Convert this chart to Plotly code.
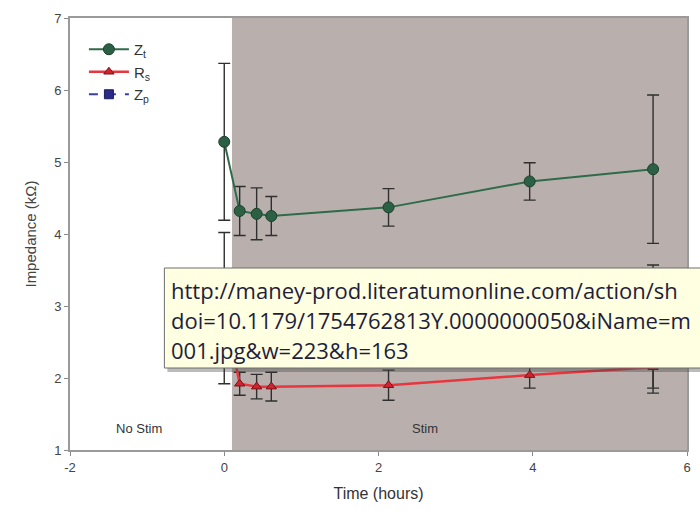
import plotly.graph_objects as go

# ---- data ----
time_h = [0, 0.2, 0.42, 0.61, 2.13, 3.96, 5.56]
zt = [5.28, 4.32, 4.28, 4.25, 4.37, 4.73, 4.90]
zt_err = [1.09, 0.34, 0.36, 0.27, 0.26, 0.26, 1.03]
rs = [2.97, 1.92, 1.88, 1.88, 1.90, 2.04, 2.15]
rs_err = [1.05, 0.16, 0.17, 0.20, 0.21, 0.18, 0.29]
zp = [3.10, 2.45, 2.42, 2.40, 2.45, 2.60, 2.68]
zp_err = [0.35, 0.20, 0.20, 0.20, 0.20, 0.25, 0.89]

series_names = ["Z<sub>t</sub>", "R<sub>s</sub>", "Z<sub>p</sub>"]
x_ticks = [-2, 0, 2, 4, 6]
x_tick_text = ["-2", "0", "2", "4", "6"]
y_ticks = [1, 2, 3, 4, 5, 6, 7]
stim_start, stim_end = 0.1, 6
region_labels = ["No Stim", "Stim"]
region_label_x = [-1.1, 2.6]
region_label_y = 1.3
tooltip_lines = [
    "http://maney-prod.literatumonline.com/action/sh",
    "doi=10.1179/1754762813Y.0000000050&iName=m",
    "001.jpg&w=223&h=163",
]

W, H = 700, 511
ML, MR, MT, MB = 70, 9, 18, 61
PW, PH = W - ML - MR, H - MT - MB


def px_x(px):
    return (px - ML) / PW


def px_y(py):
    return (H - MB - py) / PH


err_style = dict(type="data", symmetric=True, color="#2f2f2f", thickness=1.4, width=6)

fig = go.Figure()
fig.add_trace(go.Scatter(
    x=time_h, y=zp, name=series_names[2], mode="lines+markers",
    line=dict(color="#3b3fa8", width=2, dash="dash"),
    marker=dict(symbol="square", size=9, color="#2a2a88", line=dict(color="#1c1c5a", width=1)),
    error_y=dict(array=zp_err, **err_style), legendrank=3,
))
fig.add_trace(go.Scatter(
    x=time_h, y=rs, name=series_names[1], mode="lines+markers",
    line=dict(color="#e8363f", width=2.5),
    marker=dict(symbol="triangle-up", size=9, color="#cf2530", line=dict(color="#7a1018", width=1)),
    error_y=dict(array=rs_err, **err_style), legendrank=2,
))
fig.add_trace(go.Scatter(
    x=time_h, y=zt, name=series_names[0], mode="lines+markers",
    line=dict(color="#2f6a4a", width=2),
    marker=dict(symbol="circle", size=11, color="#2c6044", line=dict(color="#1d3f2c", width=1)),
    error_y=dict(array=zt_err, **err_style), legendrank=1,
))

shapes = [
    dict(type="rect", xref="x", yref="y", x0=stim_start, x1=stim_end, y0=y_ticks[0], y1=y_ticks[-1],
         fillcolor="#b9b0ae", line=dict(width=0), layer="below"),
    # tooltip shadow
    dict(type="rect", xref="paper", yref="paper", x0=px_x(168), x1=px_x(720), y0=px_y(372), y1=px_y(271),
         fillcolor="rgba(60,60,60,0.35)", line=dict(width=0), layer="above"),
    # tooltip box
    dict(type="rect", xref="paper", yref="paper", x0=px_x(165), x1=px_x(720), y0=px_y(368), y1=px_y(268),
         fillcolor="#ffffe1", line=dict(color="#6e6e6e", width=1), layer="above"),
]

annotations = []
for lab, lx in zip(region_labels, region_label_x):
    annotations.append(dict(x=lx, y=region_label_y, xref="x", yref="y", text=lab, showarrow=False,
                            font=dict(family="Liberation Sans, Arial", size=13, color="#333333")))
for i, t in enumerate(tooltip_lines):
    annotations.append(dict(x=px_x(170), y=px_y(290 + 30 * i), xref="paper", yref="paper", text=t,
                            showarrow=False, xanchor="left", yanchor="middle", align="left",
                            font=dict(family="Open Sans", size=22, color="#1e1e3c")))

fig.update_layout(
    width=W, height=H,
    margin=dict(l=ML, r=MR, t=MT, b=MB, pad=0),
    paper_bgcolor="white", plot_bgcolor="white",
    showlegend=True,
    legend=dict(x=px_x(84), y=px_y(33), xanchor="left", yanchor="top",
                bgcolor="rgba(0,0,0,0)", font=dict(family="Liberation Sans, Arial", size=15, color="#333"),
                traceorder="normal", itemwidth=40),
    shapes=shapes, annotations=annotations,
    xaxis=dict(range=[x_ticks[0], x_ticks[-1]], tickvals=x_ticks, ticktext=x_tick_text,
               showgrid=False, zeroline=False,
               showline=True, mirror=True, linecolor="#9a9a9a", linewidth=2,
               ticks="outside", ticklen=4, tickcolor="#888",
               tickfont=dict(family="Liberation Sans, Arial", size=13, color="#444"),
               title=dict(text="Time (hours)", font=dict(family="Liberation Sans, Arial", size=16, color="#333"),
                          standoff=14)),
    yaxis=dict(range=[y_ticks[0], y_ticks[-1]], tickvals=y_ticks, showgrid=False, zeroline=False,
               showline=True, mirror=True, linecolor="#9a9a9a", linewidth=2,
               ticks="outside", ticklen=4, tickcolor="#888",
               tickfont=dict(family="Liberation Sans, Arial", size=13, color="#444"),
               title=dict(text="Impedance (kΩ)", font=dict(family="Liberation Sans, Arial", size=15, color="#444"),
                          standoff=14)),
)

fig.write_html("out.html")
